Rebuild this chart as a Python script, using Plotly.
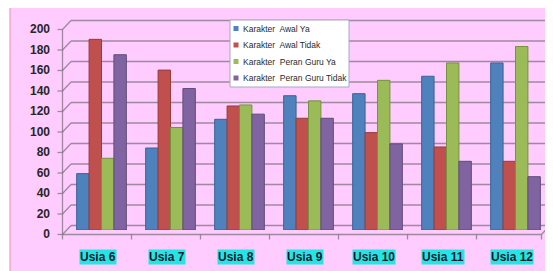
import plotly.graph_objects as go

categories = ["Usia 6", "Usia 7", "Usia 8", "Usia 9", "Usia 10", "Usia 11", "Usia 12"]
series_names = ["Karakter\u00a0 Awal Ya", "Karakter\u00a0 Awal Tidak",
                "Karakter\u00a0 Peran Guru Ya", "Karakter\u00a0 Peran Guru Tidak"]
awal_ya = [55, 80, 108, 131, 133, 150, 163]
awal_tidak = [186, 156, 121, 109, 95, 81, 67]
guru_ya = [70, 100, 122, 126, 146, 163, 179]
guru_tidak = [171, 138, 113, 109, 84, 67, 52]
y_ticks = list(range(0, 201, 20))

colors = ["#4F81BD", "#C0504D", "#9BBB59", "#8064A2"]
edge = ["#3A6496", "#963C3A", "#76923C", "#5F4B7A"]
series = [awal_ya, awal_tidak, guru_ya, guru_tidak]

# page body has an 8px margin; figure is sized to end at the window edge
OFF = 8
W_FIG, H_FIG = 553 - OFF, 271 - OFF
L, T, R, B = 59, 17, 3, 41
W = W_FIG - L - R
H = H_FIG - T - B
SL = L + OFF          # screen x of plot left
Y0 = T + H + OFF      # screen y of value 0 (mid plane)

def X(sx):
    return (sx - SL) / W

def Yv(v, dy=0.0):
    return (v * H / 200.0 + dy) / H

def Yp(sy):
    return (Y0 - sy) / H

fig = go.Figure()
for name, vals, c, e in zip(series_names, series, colors, edge):
    fig.add_trace(go.Bar(x=categories, y=vals, name=name, showlegend=False,
                         marker=dict(color=c, line=dict(color=e, width=1))))

shapes = []
# pink background panel
shapes.append(dict(type="rect", xref="paper", yref="paper", layer="below",
                   x0=X(10), x1=X(570), y0=Yp(290), y1=Yp(7),
                   fillcolor="#FFCCFF", line=dict(color="#F29AB4", width=1.2)))
grid = dict(color="rgba(125,115,125,0.75)", width=1.3)
fx, bx = -4.5, 4.0
fdy, bdy = -4.5, 4.5
for v in y_ticks:
    shapes.append(dict(type="line", xref="paper", yref="paper", layer="below",
                       x0=X(SL + fx - 5), x1=X(SL + fx), y0=Yv(v, fdy), y1=Yv(v, fdy), line=grid))
    shapes.append(dict(type="line", xref="paper", yref="paper", layer="below",
                       x0=X(SL + fx), x1=X(SL + bx), y0=Yv(v, fdy), y1=Yv(v, bdy), line=grid))
    xend = SL + W if v == 0 else 560
    shapes.append(dict(type="line", xref="paper", yref="paper", layer="below",
                       x0=X(SL + bx), x1=X(xend), y0=Yv(v, bdy), y1=Yv(v, bdy), line=grid))
shapes.append(dict(type="line", xref="paper", yref="paper", layer="below",
                   x0=X(SL + fx), x1=X(SL + fx), y0=Yv(0, fdy), y1=Yv(y_ticks[-1], fdy), line=grid))
shapes.append(dict(type="line", xref="paper", yref="paper", layer="below",
                   x0=X(SL + fx), x1=X(SL + W - 8.5), y0=Yv(0, fdy), y1=Yv(0, fdy), line=grid))
shapes.append(dict(type="line", xref="paper", yref="paper", layer="below",
                   x0=X(SL + W - 8.5), x1=X(SL + W), y0=Yv(0, fdy), y1=Yv(0, bdy), line=grid))
n = len(categories)
for k in range(n + 1):
    xp = SL + k * W / n + fx
    if k == n:
        xp = SL + W - 8.5
    shapes.append(dict(type="line", xref="paper", yref="paper", layer="below",
                       x0=X(xp), x1=X(xp), y0=Yv(0, fdy), y1=Yv(0, fdy - 5), line=grid))

annotations = []
for c in categories:
    annotations.append(dict(x=c, xref="x", y=0, yref="paper", yshift=-27, xshift=-4,
                            text="<b>%s</b>" % c, showarrow=False, yanchor="middle",
                            bgcolor="#22E6E6", borderpad=0,
                            font=dict(family="Liberation Sans, Arial", size=12, color="#1A1A2A")))

# legend box (drawn manually to match the compact original)
LG_X0, LG_X1, LG_Y0, LG_Y1 = 230, 349, 20, 87
shapes.append(dict(type="rect", xref="paper", yref="paper", layer="above",
                   x0=X(LG_X0), x1=X(LG_X1), y0=Yp(LG_Y1), y1=Yp(LG_Y0),
                   fillcolor="white", line=dict(color="#A8A8C0", width=1)))
for i, (name, c) in enumerate(zip(series_names, colors)):
    cy = 28.5 + i * 16.5
    shapes.append(dict(type="rect", xref="paper", yref="paper", layer="above",
                       x0=X(233.5), x1=X(238.5), y0=Yp(cy + 2.5), y1=Yp(cy - 2.5),
                       fillcolor=c, line=dict(width=0)))
    annotations.append(dict(x=X(241), xref="paper", y=Yp(cy), yref="paper",
                            xanchor="left", yanchor="middle", showarrow=False, text=name,
                            font=dict(family="Liberation Sans, Arial", size=8.5, color="#2A2A2A")))

fig.update_layout(
    width=W_FIG, height=H_FIG,
    margin=dict(l=L, r=R, t=T, b=B),
    paper_bgcolor="white", plot_bgcolor="rgba(0,0,0,0)",
    barmode="group", bargap=0.28, bargroupgap=0,
    shapes=shapes, annotations=annotations,
    showlegend=False,
    xaxis=dict(type="category", range=[-0.5, len(categories) - 0.5], showticklabels=False,
               showgrid=False, zeroline=False, showline=False, ticks=""),
    yaxis=dict(range=[0, 200], tickvals=y_ticks, showgrid=False, zeroline=False, showline=False,
               ticks="", ticklabelstandoff=16, ticklabelshift=4,
               tickfont=dict(family="Liberation Sans, Arial", size=12, color="#262626", weight="bold")),
)

fig.write_html("out.html")
